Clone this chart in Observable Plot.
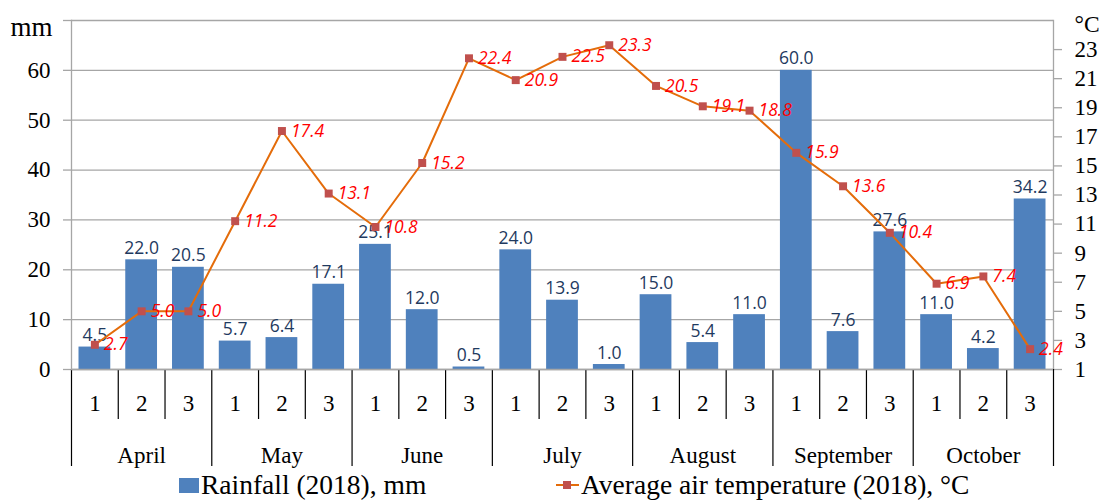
<!DOCTYPE html>
<html><head><meta charset="utf-8">
<script src="https://cdn.jsdelivr.net/npm/d3@7"></script>
<script src="https://cdn.jsdelivr.net/npm/@observablehq/plot@0.6"></script>
<style>
body{margin:0;background:#fff;}
#chart svg{display:block;}
#legend{position:relative;height:30px;font-family:"Liberation Serif",serif;font-size:27.5px;color:#000;line-height:30px;}
#legend .item{position:absolute;top:0;display:flex;align-items:center;white-space:nowrap;}
#legend .sw{display:inline-block;width:20px;height:15px;background:#4F81BD;margin-right:2px;}
</style></head><body>
<div id="chart"></div>
<div id="legend">
  <div class="item" style="left:179px"><span class="sw"></span><span>Rainfall (2018), mm</span></div>
  <div class="item" style="left:556px"><svg width="23" height="14" style="margin-right:2px"><line x1="0" y1="7" x2="23" y2="7" stroke="#E46C0A" stroke-width="2"/><rect x="7" y="3" width="8" height="8" fill="#C0504D"/></svg><span>Average air temperature (2018), °C</span></div>
</div>
<script>
const months = ["April","May","June","July","August","September","October"];
const decades = ["1","2","3"];
const rainfall = [4.5,22.0,20.5, 5.7,6.4,17.1, 25.1,12.0,0.5, 24.0,13.9,1.0, 15.0,5.4,11.0, 60.0,7.6,27.6, 11.0,4.2,34.2];
const temperature = [2.7,5.0,5.0, 11.2,17.4,13.1, 10.8,15.2,22.4, 20.9,22.5,23.3, 20.5,19.1,18.8, 15.9,13.6,10.4, 6.9,7.4,2.4];
const leftTicks = [0,10,20,30,40,50,60,70];
const rightTicks = [1,3,5,7,9,11,13,15,17,19,21,23];
const yMax = 70, tMin = 1, tMax = 25;
const toY = t => (t - tMin) * yMax / (tMax - tMin);
const fromY = v => v * (tMax - tMin) / yMax + tMin;

const rows = rainfall.map((r, i) => ({i, month: months[Math.floor(i / 3)], decade: decades[i % 3], rain: r, temp: temperature[i], ty: toY(temperature[i])}));
const n = rows.length;
const decadeBounds = d3.range(n + 1).filter(k => k % 3 !== 0).map(k => k - 0.5);
const monthBounds = d3.range(months.length + 1).map(m => m * 3 - 0.5);
const monthCenters = months.map((m, k) => k * 3 + 1);
const grid = "#a6a6a6";

const chart = Plot.plot({
  width: 1099, height: 470,
  marginLeft: 71, marginRight: 46, marginTop: 20, marginBottom: 101,
  x: {type: "linear", domain: [-0.5, n - 0.5], label: null},
  y: {domain: [0, yMax], label: null},
  style: {fontFamily: "Liberation Serif, serif", fontSize: "23px", color: "#000", background: "#fff"},
  marks: [
    Plot.gridY(leftTicks, {stroke: grid, strokeOpacity: 1, strokeWidth: 1.3}),
    Plot.frame({anchor: "left", stroke: grid, strokeWidth: 1.3}),
    Plot.frame({anchor: "right", stroke: grid, strokeWidth: 1.3}),
    Plot.axisY(leftTicks.filter(v => v < yMax), {anchor: "left", tickSize: 8, tickPadding: 13, stroke: grid, strokeWidth: 1.3, tickFormat: d => String(d)}),
    Plot.axisY([yMax], {anchor: "left", tickSize: 8, tickPadding: 13, stroke: grid, strokeWidth: 1.3, tickFormat: () => ""}),
    Plot.text(["mm"], {y: () => yMax, frameAnchor: "left", textAnchor: "end", dx: -19, dy: 7, text: d => d, fill: "#000", fontSize: 27}),
    Plot.axisY(rightTicks.map(toY), {anchor: "right", tickSize: 8, tickPadding: 13, stroke: grid, strokeWidth: 1.3, tickFormat: v => String(Math.round(fromY(v)))}),
    Plot.text(["°C"], {y: () => toY(tMax), frameAnchor: "right", textAnchor: "start", dx: 21, dy: 4, text: d => d, fill: "#000", fontSize: 23.5}),
    Plot.axisX(decadeBounds, {anchor: "bottom", tickSize: 50, tickFormat: () => "", stroke: "#000", strokeWidth: 1.2}),
    Plot.axisX(monthBounds, {anchor: "bottom", tickSize: 97, tickFormat: () => "", stroke: "#000", strokeWidth: 1.2}),
    Plot.axisX(rows.map(d => d.i), {anchor: "bottom", tickSize: 0, tickPadding: 25, tickFormat: i => rows[i].decade}),
    Plot.axisX(monthCenters, {anchor: "bottom", tickSize: 0, tickPadding: 77, tickFormat: c => months[(c - 1) / 3]}),
    Plot.rectY(rows, {x1: d => d.i - 0.5, x2: d => d.i + 0.5, y: "rain", fill: "#4F81BD", insetLeft: 7.5, insetRight: 7.5}),
    Plot.ruleY([0], {stroke: grid, strokeWidth: 1.3}),
    Plot.text(rows, {x: "i", y: "rain", text: d => d.rain.toFixed(1), lineAnchor: "bottom", dy: -6, fill: "#1F3A60", fontFamily: "Open Sans", fontSize: 17.5}),
    Plot.line(rows, {x: "i", y: "ty", stroke: "#E46C0A", strokeWidth: 2}),
    Plot.dot(rows, {x: "i", y: "ty", symbol: "square", r: 4.5, fill: "#C0504D", stroke: "none"}),
    Plot.text(rows, {x: "i", y: "ty", text: d => d.temp.toFixed(1), textAnchor: "start", dx: 9, fill: "#FF0000", fontStyle: "italic", fontFamily: "Open Sans", fontSize: 17.5})
  ]
});
document.getElementById("chart").appendChild(chart);
</script>
</body></html>
